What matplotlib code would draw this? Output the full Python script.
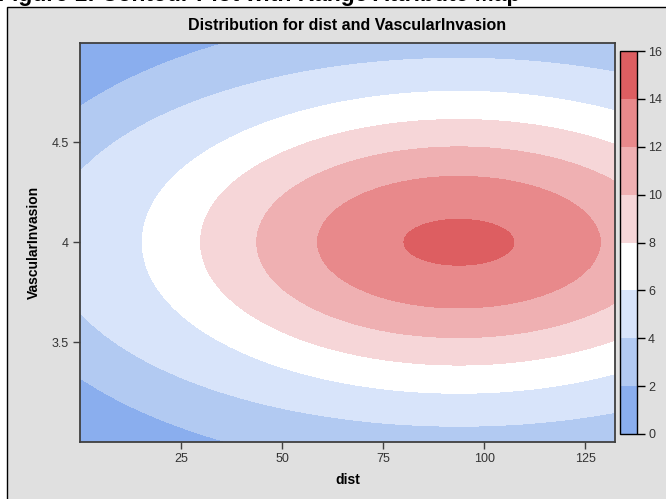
import numpy as np
import matplotlib
matplotlib.use("Agg")
import matplotlib.pyplot as plt
from matplotlib.patches import Rectangle

plt.rcParams['font.family'] = ['Liberation Sans', 'DejaVu Sans']

# ---- data ----
x_range = (0.0, 132.3)          # dist axis
y_range = (3.0, 5.0)            # VascularInvasion axis
peak_xy = (93.7, 4.0)           # location of the maximum
peak_value = 15.2
contour_levels = [14, 12, 10, 8, 6, 4, 2, 0]                     # contour values (inner -> outer)
half_width_x = [13.6, 35.0, 50.0, 63.9, 78.3, 101.4, 116.0, 175.0]  # semi-axis along dist
half_height_y = [0.115, 0.331, 0.478, 0.615, 0.756, 0.921, 1.15, 1.75]  # semi-axis along VascularInvasion
band_levels = [0, 2, 4, 6, 8, 10, 12, 14, 16]
band_colors = ['#8AAEEE', '#B2CAF2', '#D8E4FA', '#FFFFFF',
               '#F6D6D8', '#EFB0B2', '#E8898B', '#DD5E61']
x_ticks = [25, 50, 75, 100, 125]
y_ticks = [3.5, 4.0, 4.5]
y_ticklabels = ['3.5', '4', '4.5']

# ---- surface built from the measured contour outlines ----
gx = np.linspace(x_range[0], x_range[1], 500)
gy = np.linspace(y_range[0], y_range[1], 400)
X, Y = np.meshgrid(gx, gy)
rho = [np.sqrt(((X - peak_xy[0]) / a) ** 2 + ((Y - peak_xy[1]) / b) ** 2)
       for a, b in zip(half_width_x, half_height_y)]
Z = np.full(X.shape, 0.05)
inner = rho[0] < 1
Z[inner] = contour_levels[0] + (peak_value - contour_levels[0]) * (1 - rho[0][inner] ** 2)
for k in range(1, len(contour_levels)):
    m = (rho[k] < 1) & (rho[k - 1] >= 1)
    t = (1 - rho[k][m]) / (rho[k - 1][m] - rho[k][m])
    Z[m] = contour_levels[k] + (contour_levels[k - 1] - contour_levels[k]) * t
Z = np.clip(Z, 0.05, 15.99)

# ---- figure ----
W, H = 666, 499
fig = plt.figure(figsize=(W / 100, H / 100), dpi=100, facecolor='white')

panel = Rectangle((7 / W, -0.02), 1.0, 1 - 7 / H + 0.02, transform=fig.transFigure,
                  facecolor='#E0E0E0', edgecolor='black', linewidth=1.0, zorder=-10)
fig.patches.append(panel)

fig.text(-2 / W, 1 - 1.5 / H, 'Figure 1: Contour Plot with Range Attribute Map',
         fontsize=16.5, fontweight='bold', ha='left', va='baseline', color='black',
         zorder=5)

ax = fig.add_axes([80 / W, 1 - 442 / H, (615 - 80) / W, (442 - 42.5) / H])
cs = ax.contourf(X, Y, Z, levels=band_levels, colors=band_colors, antialiased=False)
ax.set_xlim(*x_range)
ax.set_ylim(*y_range)
ax.set_xticks(x_ticks)
ax.set_xticklabels([str(v) for v in x_ticks])
ax.set_yticks(y_ticks)
ax.set_yticklabels(y_ticklabels)
for s in ax.spines.values():
    s.set_color('#404040')
    s.set_linewidth(1.3)
ax.tick_params(axis='both', direction='out', length=5, width=1, color='#404040',
               labelsize=9, labelcolor='#333333', pad=3)
ax.set_xlabel('dist', fontsize=10, fontweight='bold', labelpad=6)
ax.set_ylabel('VascularInvasion', fontsize=10, fontweight='bold', labelpad=8)
ax.set_title('Distribution for dist and VascularInvasion', fontsize=11.5,
             fontweight='bold', pad=9)

cax = fig.add_axes([620 / W, 1 - 434 / H, 17 / W, (434 - 51) / H])
cb = fig.colorbar(cs, cax=cax, ticks=band_levels)
cb.outline.set_edgecolor('black')
cb.outline.set_linewidth(1.0)
cax.tick_params(direction='out', length=6, width=1, color='black',
                labelsize=9, labelcolor='#333333', pad=2)
cax.set_yticklabels([str(v) for v in band_levels])

fig.savefig('out.png', dpi=100, facecolor='white')
